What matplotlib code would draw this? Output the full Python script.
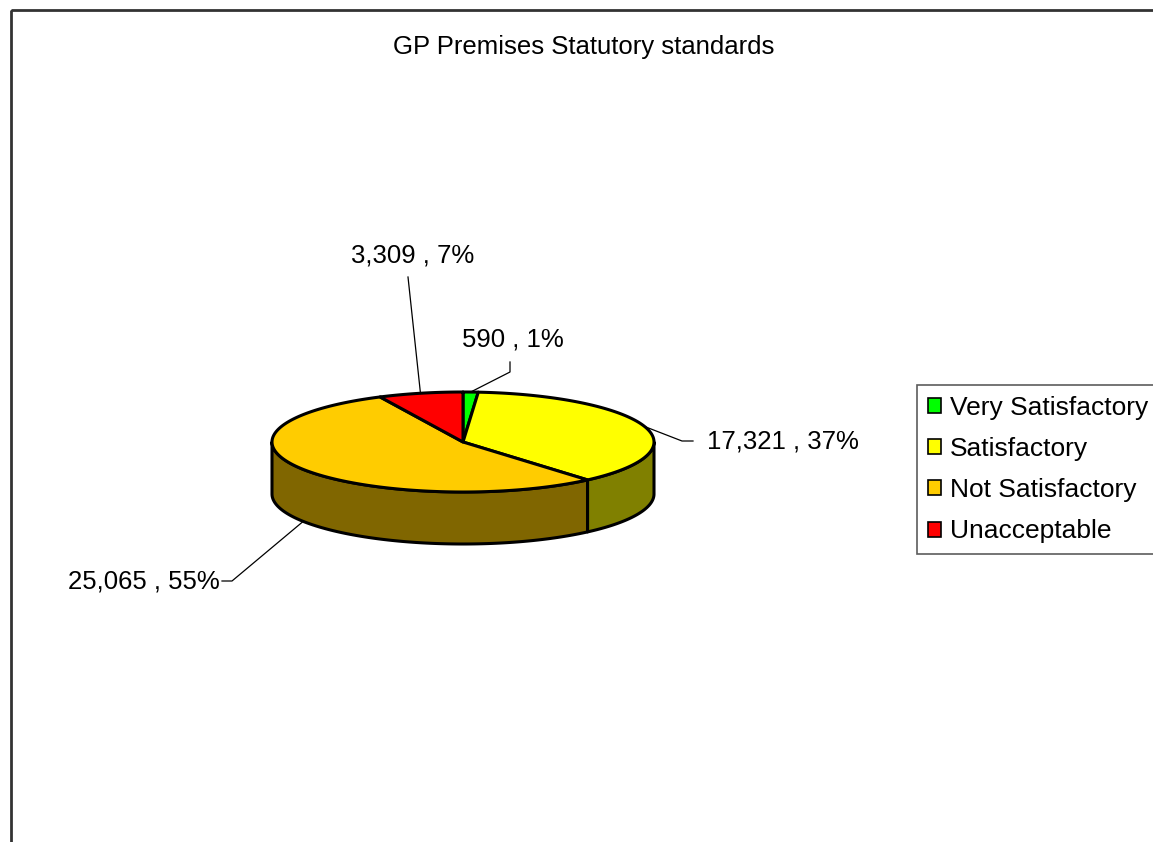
# GP premises statutory standards - 3D style pie with leader labels

import numpy as np
import matplotlib.pyplot as plt
from matplotlib.patches import Polygon, Patch, Rectangle

plt.rcParams['font.family'] = ['Liberation Sans', 'DejaVu Sans']

categories = ['Very Satisfactory', 'Satisfactory', 'Not Satisfactory', 'Unacceptable']
counts = [590, 17321, 25065, 3309]
pct_labels = [1, 37, 55, 7]
colours = ['#00ff00', '#ffff00', '#ffcc00', '#ff0000']

# pie geometry in pixels
cx, cy = 463, 442
rx, ry = 191, 50
depth = 52


def ell(theta):
    t = np.radians(theta)
    return cx + rx * np.cos(t), cy - ry * np.sin(t)


def darker(hexcol, f=0.5):
    h = hexcol.lstrip('#')
    r, g, b = [int(h[i:i + 2], 16) / 255 for i in (0, 2, 4)]
    return (r * f, g * f, b * f)


fig = plt.figure(figsize=(11.53, 8.42), dpi=100)
ax = fig.add_axes([0, 0, 1, 1])
ax.set_xlim(0, 1153)
ax.set_ylim(842, 0)
ax.axis('off')

# chart area border
ax.add_patch(Rectangle((11, 10), 1200, 900, fill=False, ec='#333333', lw=2))

ax.text(584, 47, 'GP Premises Statutory standards', fontsize=18.5,
        ha='center', va='center')

total = float(sum(counts))
start = 90.0
ranges = []
for v in counts:
    sweep = v / total * 360
    ranges.append((start - sweep, start))
    start -= sweep

# side walls (only the front half is visible)
for (t1, t2), col in zip(ranges, colours):
    for lo, hi in [(-180, 0), (180, 360), (-540, -360)]:
        a, b = max(t1, lo), min(t2, hi)
        if b <= a:
            continue
        th = np.linspace(a, b, 120)
        x, y = ell(th)
        xs = np.concatenate([x, x[::-1]])
        ys = np.concatenate([y, y[::-1] + depth])
        ax.add_patch(Polygon(np.column_stack([xs, ys]), closed=True,
                             fc=darker(col), ec='black', lw=2.2, joinstyle='round'))

# top faces
for (t1, t2), col in zip(ranges, colours):
    th = np.linspace(t1, t2, 200)
    x, y = ell(th)
    xs = np.concatenate([[cx], x])
    ys = np.concatenate([[cy], y])
    ax.add_patch(Polygon(np.column_stack([xs, ys]), closed=True,
                         fc=col, ec='black', lw=2.2, joinstyle='round'))

# data labels with leader lines
label_pos = [(513, 340, 'center', 'center'),
             (707, 441, 'left', 'center'),
             (220, 581, 'right', 'center'),
             (413, 255, 'center', 'center')]
elbows = [[(510, 372), (510, 362)],
          [(682, 441), (693, 441)],
          [(232, 581), (222, 581)],
          [(408, 277)]]

for i, ((t1, t2), v, p) in enumerate(zip(ranges, counts, pct_labels)):
    mid = (t1 + t2) / 2
    ax_x, ax_y = ell(mid)
    if np.sin(np.radians(mid)) < 0:
        ax_y += depth
    pts = [(ax_x, ax_y)] + elbows[i]
    ax.plot([q[0] for q in pts], [q[1] for q in pts], color='black', lw=0.9)
    lx, ly, ha, va = label_pos[i]
    ax.text(lx, ly, '{:,} , {}%'.format(v, p), fontsize=18.5, ha=ha, va=va)

handles = [Patch(fc=c, ec='black', lw=1.2) for c in colours]
leg = ax.legend(handles, categories, loc='upper left',
                bbox_to_anchor=(917 / 1153, 1 - 385 / 842),
                bbox_transform=fig.transFigure, borderaxespad=0,
                fontsize=19, frameon=True, fancybox=False,
                edgecolor='#333333', handlelength=0.5, handleheight=0.5,
                handletextpad=0.34, labelspacing=0.655, borderpad=0.4)
leg.get_frame().set_linewidth(1.2)

fig.savefig('out.png', dpi=100)
